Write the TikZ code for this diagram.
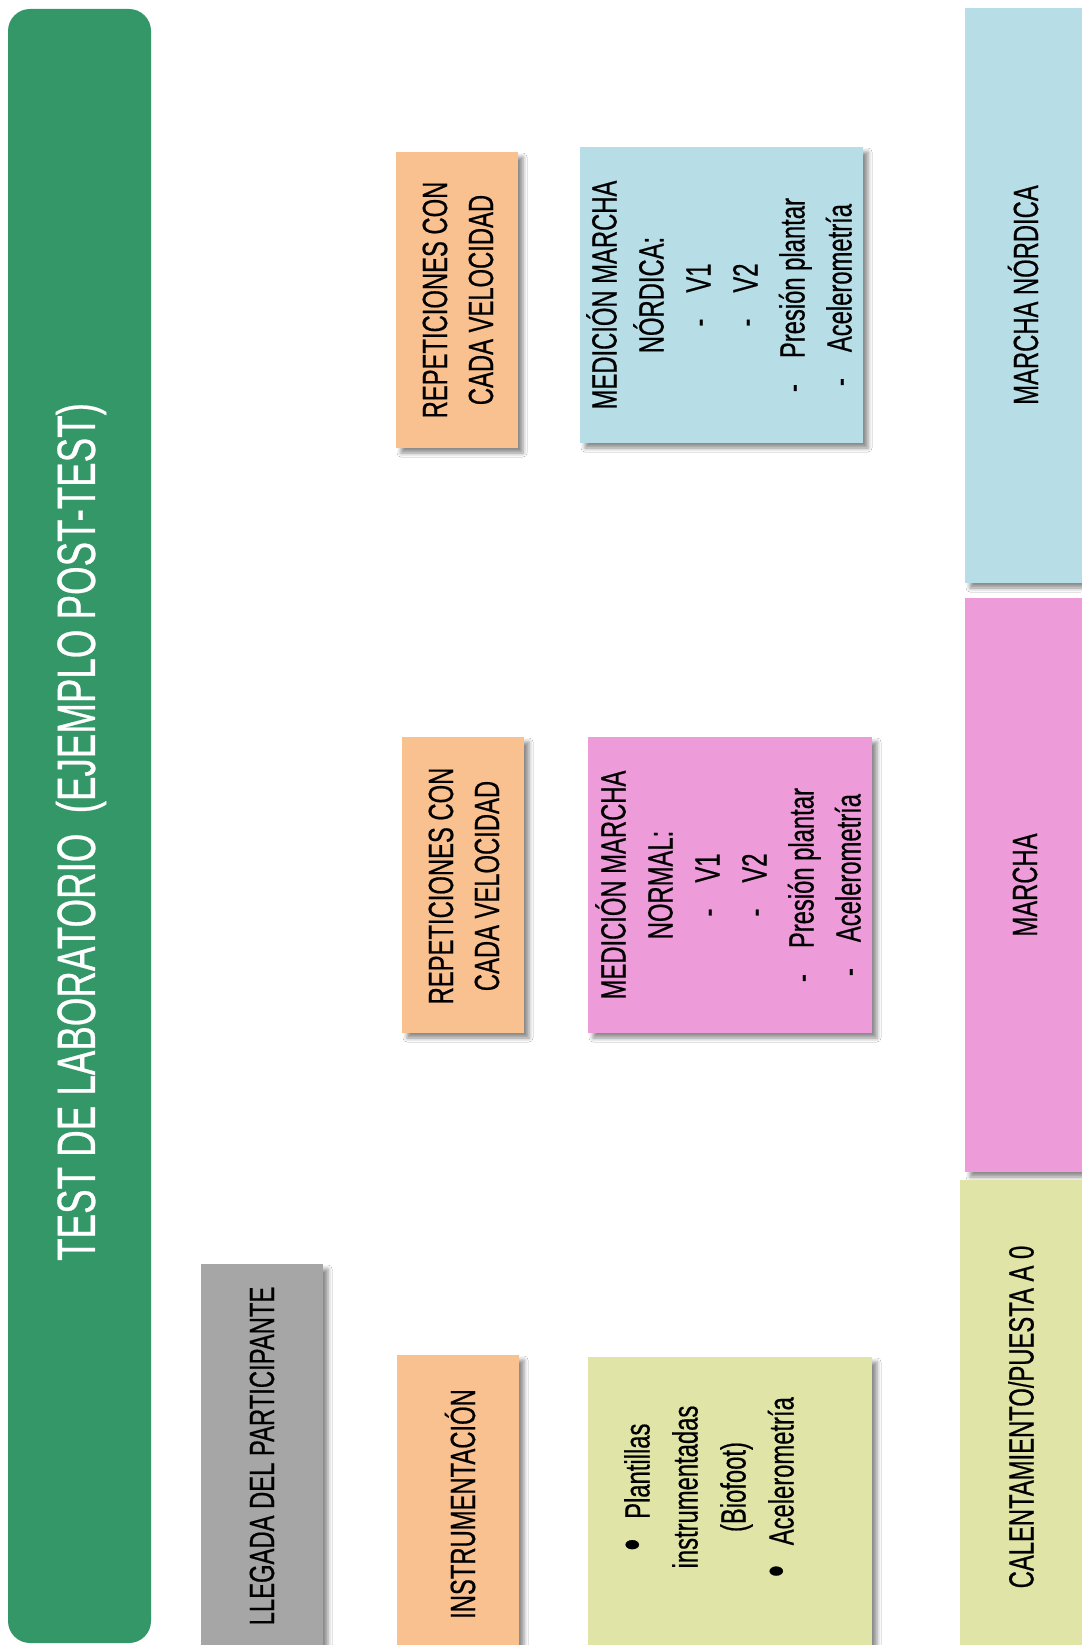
\documentclass[tikz,border=0pt]{standalone}
\usepackage{fontspec}
\setmainfont[FakeStretch=0.68,FakeBold=0.5]{Liberation Sans}
\usetikzlibrary{fit,shadows.blur}

\definecolor{titlegreen}{RGB}{52,151,103}
\definecolor{arrivalgray}{RGB}{166,166,166}
\definecolor{peach}{RGB}{249,192,144}
\definecolor{lime}{RGB}{224,228,167}
\definecolor{orchid}{RGB}{238,155,218}
\definecolor{skyblue}{RGB}{183,221,231}

% larger list bullet
\newcommand{\bigdot}{\raisebox{1pt}{\scalebox{1.4}{\textbullet}}}

\begin{document}
\begin{tikzpicture}[x=1pt,y=-1pt,
  panel/.style={draw=none, inner sep=0pt,
    blur shadow={shadow xshift=5pt, shadow yshift=-5pt,
                 shadow blur radius=4pt, shadow opacity=45}},
  label/.style={rotate=90, align=center, inner sep=0pt, text=black,
    font=\fontsize{35}{47}\selectfont},
  listlabel/.style={label, font=\fontsize{35}{48}\selectfont}]

  % page area
  \fill[white] (0,0) rectangle (1081,1645);
  \useasboundingbox (0,0) rectangle (1081,1645);

  % title bar
  \node[fit={(8,9) (151,1643)}, inner sep=0pt, fill=titlegreen,
        rounded corners=22pt] (titlebar) {};
  \node[rotate=90, inner sep=0pt, text=white,
        font=\fontsize{54}{60}\selectfont] (title) at (81,832)
        {TEST DE LABORATORIO\ \ (EJEMPLO POST-TEST)};

  % first column of steps
  \node[panel, fill=arrivalgray, fit={(201,1264) (323,1680)}] (arrival) {};
  \node[label] (arrival-t) at (262,1456) {LLEGADA DEL PARTICIPANTE};

  \node[panel, fill=peach, fit={(397,1355) (519,1680)}] (instr) {};
  \node[label] (instr-t) at (460,1504) {INSTRUMENTACIÓN};

  \node[panel, fill=lime, fit={(588,1357) (872,1680)}] (sensors) {};
  \node[listlabel] (sensors-t) at (709,1487)
    {\bigdot\hspace{20pt}Plantillas\hspace{30pt}\\
     instrumentadas\\
     (Biofoot)\\
     \bigdot\hspace{20pt}Acelerometría\hspace{30pt}};

  % repetitions
  \node[panel, fill=peach, fit={(396,152) (518,448)}] (rep-nordic) {};
  \node[label, font=\fontsize{35}{46}\selectfont] (rep-nordic-t) at (458,300)
    {REPETICIONES CON\\CADA VELOCIDAD};

  \node[panel, fill=peach, fit={(402,737) (524,1033)}] (rep-normal) {};
  \node[label, font=\fontsize{35}{46}\selectfont] (rep-normal-t) at (464,886)
    {REPETICIONES CON\\CADA VELOCIDAD};

  % measurements
  \node[panel, fill=skyblue, fit={(580,147) (863,443)}] (meas-nordic) {};
  \node[label] (meas-nordic-t) at (719,295)
    {MEDICIÓN MARCHA\\
     NÓRDICA:\\
     -\hspace{26pt}V1\\
     -\hspace{26pt}V2\\
     -\hspace{26pt}Presión plantar\\
     -\hspace{26pt}Acelerometría};

  \node[panel, fill=orchid, fit={(588,737) (872,1033)}] (meas-normal) {};
  \node[label] (meas-normal-t) at (728,885)
    {MEDICIÓN MARCHA\\
     NORMAL:\\
     -\hspace{26pt}V1\\
     -\hspace{26pt}V2\\
     -\hspace{26pt}Presión plantar\\
     -\hspace{26pt}Acelerometría};

  % phase column
  \node[panel, fill=skyblue, fit={(965,8) (1110,583)}] (phase-nordic) {};
  \node[label] (phase-nordic-t) at (1023,295) {MARCHA NÓRDICA};

  \node[panel, fill=orchid, fit={(965,598) (1110,1172)}] (phase-walk) {};
  \node[label] (phase-walk-t) at (1025,885) {MARCHA};

  \node[panel, fill=lime, fit={(960,1180) (1110,1680)}] (phase-warm) {};
  \node[label] (phase-warm-t) at (1021,1417) {CALENTAMIENTO/PUESTA A 0};
\end{tikzpicture}
\end{document}
